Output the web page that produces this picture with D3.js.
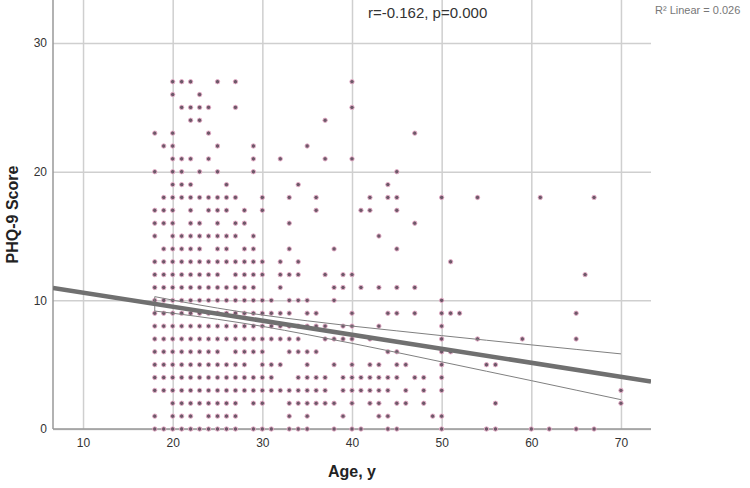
<!DOCTYPE html>
<html>
<head>
<meta charset="utf-8">
<script src="https://cdn.jsdelivr.net/npm/d3@7"></script>
<style>
  body { margin: 0; background: #fff; }
  svg { display: block; font-family: "Liberation Sans", Arial, sans-serif; }
</style>
</head>
<body>
<script>
var width = 750;
var height = 488;

// PHQ-9 score levels and the ages that have a dot at each level
var scoreLevels = [27, 26, 25, 24, 23, 22, 21, 20, 19, 18, 17, 16, 15, 14, 13, 12, 11, 10, 9, 8, 7, 6, 5, 4, 3, 2, 1, 0];
var agesAtScore = [
  [20, 21, 22, 25, 27, 40],
  [20, 23],
  [21, 22, 23, 24, 27, 40],
  [22, 23, 37],
  [18, 20, 24, 47],
  [19, 20, 25, 29, 35],
  [20, 21, 22, 24, 29, 32, 37, 40],
  [18, 20, 21, 23, 25, 29, 45],
  [20, 21, 22, 26, 34, 44],
  [19, 20, 21, 22, 23, 24, 25, 26, 27, 30, 33, 36, 42, 44, 45, 50, 54, 61, 67],
  [18, 19, 20, 22, 24, 25, 26, 28, 30, 36, 41, 42, 45],
  [18, 19, 20, 22, 23, 25, 27, 28, 33, 47],
  [18, 20, 21, 22, 23, 24, 25, 26, 27, 29, 43],
  [19, 20, 21, 22, 23, 25, 26, 28, 29, 33, 38, 45],
  [18, 19, 20, 21, 22, 23, 24, 25, 26, 27, 28, 29, 30, 32, 34, 51],
  [18, 19, 20, 21, 22, 23, 24, 25, 27, 28, 29, 30, 32, 33, 34, 37, 39, 40, 66],
  [18, 19, 20, 21, 22, 23, 24, 25, 26, 27, 28, 29, 32, 38, 39, 41, 43, 45, 47],
  [18, 19, 20, 21, 22, 23, 24, 25, 26, 27, 28, 29, 30, 31, 33, 34, 35, 38, 50],
  [18, 19, 20, 21, 22, 23, 24, 25, 26, 27, 28, 29, 30, 31, 32, 33, 35, 36, 40, 44, 45, 47, 50, 51, 52, 65],
  [18, 19, 20, 21, 22, 23, 24, 25, 26, 27, 28, 29, 30, 31, 32, 33, 34, 35, 36, 37, 39, 40, 43, 50],
  [18, 19, 20, 21, 22, 23, 24, 25, 26, 27, 28, 29, 30, 31, 32, 33, 34, 37, 38, 39, 40, 42, 50, 54, 59, 65],
  [18, 19, 20, 21, 22, 23, 24, 25, 27, 28, 29, 30, 33, 34, 35, 36, 44, 45, 50, 51],
  [18, 19, 20, 21, 22, 23, 24, 25, 26, 27, 28, 30, 31, 32, 35, 38, 40, 42, 43, 45, 46, 50, 55, 56],
  [18, 19, 20, 21, 22, 23, 24, 25, 26, 27, 28, 29, 30, 31, 34, 35, 36, 37, 39, 40, 41, 42, 43, 44, 45, 47, 48, 50],
  [18, 19, 20, 21, 22, 23, 24, 25, 26, 27, 28, 29, 30, 31, 32, 33, 34, 35, 36, 37, 39, 40, 41, 42, 43, 44, 46, 48, 50, 70],
  [20, 21, 22, 23, 24, 25, 26, 27, 29, 30, 33, 34, 35, 36, 37, 38, 40, 42, 43, 45, 46, 48, 56, 70],
  [18, 20, 21, 22, 24, 25, 26, 27, 33, 35, 39, 43, 44, 49, 50],
  [18, 19, 20, 21, 22, 23, 24, 25, 26, 27, 29, 30, 31, 33, 34, 35, 38, 40, 41, 44, 45, 50, 55, 56, 60, 62, 65, 67]
];

// regression line and 95% confidence band of the mean
var fitX = [6.65, 73.35];
var fitY = [10.97, 3.69];
var ciX = [18, 20, 25, 30, 35, 40, 45, 50, 55, 60, 65, 70];
var ciUpper = [10.29, 10.02, 9.40, 8.86, 8.41, 8.00, 7.63, 7.26, 6.90, 6.54, 6.19, 5.84];
var ciLower = [9.17, 9.00, 8.53, 7.98, 7.34, 6.66, 5.95, 5.22, 4.49, 3.76, 3.02, 2.28];

var xTicks = [10, 20, 30, 40, 50, 60, 70];
var yTicks = [0, 10, 20, 30];

var margin = {left: 53, right: 99, top: 0, bottom: 59};
var plotW = width - margin.left - margin.right;
var plotH = height - margin.top - margin.bottom;

var x = d3.scaleLinear().domain([6.65, 73.35]).range([0, plotW]);
var y = d3.scaleLinear().domain([0, 33.35]).range([plotH, 0]);

var svg = d3.select('body').append('svg')
    .attr('width', width)
    .attr('height', height);

svg.append('defs').append('clipPath').attr('id', 'clip')
  .append('rect').attr('width', plotW).attr('height', plotH);

var g = svg.append('g').attr('transform', 'translate(' + margin.left + ',' + margin.top + ')');

// grid
var gx = g.append('g')
    .attr('transform', 'translate(0,' + plotH + ')')
    .call(d3.axisBottom(x).tickValues(xTicks).tickSize(-plotH).tickPadding(9));
var gy = g.append('g')
    .call(d3.axisLeft(y).tickValues(yTicks).tickSize(-plotW).tickPadding(6));

[gx, gy].forEach(function(ax){
    ax.select('.domain').remove();
    ax.selectAll('.tick line').attr('stroke', '#cfcfcf').attr('stroke-width', 1.5);
    ax.selectAll('.tick text')
      .attr('fill', '#333')
      .style('font-size', '12px')
      .style('font-family', '"Liberation Sans", Arial, sans-serif');
});

// axis lines
g.append('line').attr('x1', 0).attr('x2', 0).attr('y1', 0).attr('y2', plotH)
    .attr('stroke', '#999').attr('stroke-width', 1.5);
g.append('line').attr('x1', 0).attr('x2', plotW).attr('y1', plotH).attr('y2', plotH)
    .attr('stroke', '#999').attr('stroke-width', 1.5);

// dots
var points = [];
scoreLevels.forEach(function(s, i){
    agesAtScore[i].forEach(function(a){ points.push({age: a, score: s}); });
});

g.append('g').selectAll('circle')
    .data(points)
  .enter().append('circle')
    .attr('cx', function(d){ return x(d.age); })
    .attr('cy', function(d){ return y(d.score); })
    .attr('r', 2.2)
    .attr('fill', '#6c5868')
    .attr('stroke', '#eab0cb')
    .attr('stroke-width', 0.9);

// confidence band lines
var line = d3.line()
    .x(function(d){ return x(d[0]); })
    .y(function(d){ return y(d[1]); })
    .curve(d3.curveMonotoneX);

var lines = g.append('g').attr('clip-path', 'url(#clip)');

lines.append('path')
    .datum(ciX.map(function(v, i){ return [v, ciUpper[i]]; }))
    .attr('d', line).attr('fill', 'none').attr('stroke', '#808080').attr('stroke-width', 1);
lines.append('path')
    .datum(ciX.map(function(v, i){ return [v, ciLower[i]]; }))
    .attr('d', line).attr('fill', 'none').attr('stroke', '#808080').attr('stroke-width', 1);
lines.append('path')
    .datum(ciX.slice(0, 1).map(function(v){ return [[v, ciLower[0]], [v, ciUpper[0]]]; })[0])
    .attr('d', line).attr('fill', 'none').attr('stroke', '#808080').attr('stroke-width', 1);

lines.append('path')
    .datum(fitX.map(function(v, i){ return [v, fitY[i]]; }))
    .attr('d', d3.line().x(function(d){ return x(d[0]); }).y(function(d){ return y(d[1]); }))
    .attr('fill', 'none').attr('stroke', '#707070').attr('stroke-width', 4.5);

// titles
svg.append('text')
    .attr('x', margin.left + plotW / 2).attr('y', 477)
    .attr('text-anchor', 'middle')
    .style('font-size', '16px').style('font-weight', 'bold').attr('fill', '#222')
    .text('Age, y');

svg.append('text')
    .attr('transform', 'translate(18,' + (plotH / 2) + ') rotate(-90)')
    .attr('text-anchor', 'middle')
    .style('font-size', '16px').style('font-weight', 'bold').attr('fill', '#222')
    .text('PHQ-9 Score');

svg.append('text')
    .attr('x', 368).attr('y', 18)
    .style('font-size', '15px').attr('fill', '#333')
    .text('r=-0.162, p=0.000');

svg.append('text')
    .attr('x', 655).attr('y', 14)
    .style('font-size', '11px').attr('fill', '#777')
    .text('R\u00b2 Linear = 0.026');
</script>
</body>
</html>
